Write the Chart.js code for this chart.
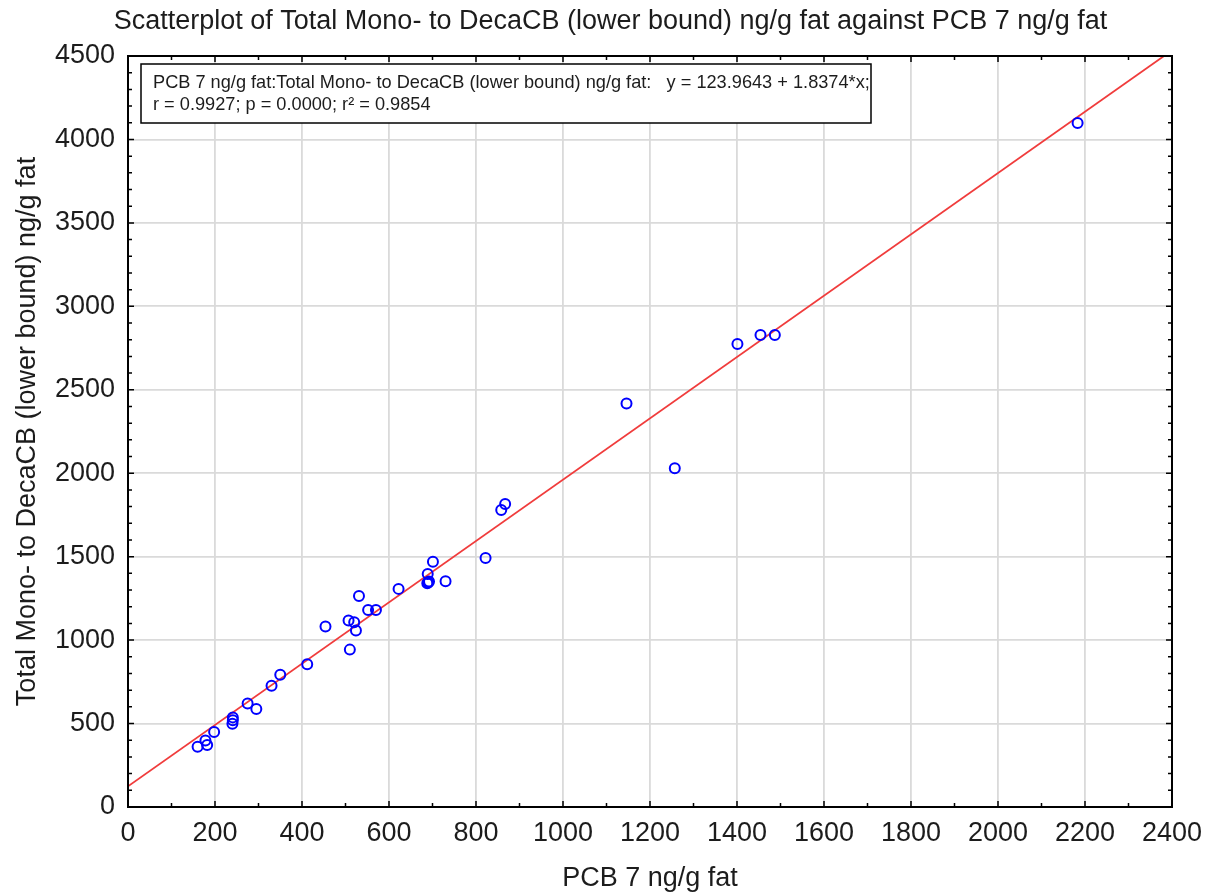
<!DOCTYPE html>
<html>
<head>
<meta charset="utf-8">
<script src="https://cdn.jsdelivr.net/npm/chart.js@4.4.1/dist/chart.umd.min.js"></script>
<style>
  html, body { margin: 0; padding: 0; background: #fff; }
  #wrap { width: 1215px; height: 895px; }
</style>
</head>
<body>
<div id="wrap"><canvas id="scatter" width="1215" height="895"></canvas></div>
<script>
// PCB 7 ng/g fat (x) and Total Mono- to DecaCB (lower bound) ng/g fat (y)
var pcb7 = [160, 178, 182, 198, 240, 241, 241, 275, 295, 330, 350, 412, 454, 507, 510, 520, 524, 531,
            552, 570, 622, 689, 688, 692, 690, 701, 730, 822, 858, 867, 1146, 1257, 1401, 1454, 1487, 2183];
var totalCB = [361, 399, 371, 449, 499, 537, 520, 620, 587, 726, 792, 856, 1081, 1117, 943, 1107, 1058, 1265,
               1180, 1180, 1307, 1396, 1341, 1351, 1345, 1470, 1352, 1492, 1780, 1816, 2418, 2030, 2774, 2828, 2828, 4098];

// fitted line y = a + b*x
var intercept = 123.9643;
var slope = 1.8374;

var xRange = [0, 2400];
var yRange = [0, 4500];

var chartTitle = 'Scatterplot of Total Mono- to DecaCB (lower bound) ng/g fat against PCB 7 ng/g fat';
var fitLabel = [
    'PCB 7 ng/g fat:Total Mono- to DecaCB (lower bound) ng/g fat:   y = 123.9643 + 1.8374*x;',
    'r = 0.9927; p = 0.0000; r\u00B2 = 0.9854'
];

var FONT = "'Liberation Sans', Arial, sans-serif";
var TXT = '#1c1c1c';

var points = pcb7.map(function(x, i) { return { x: x, y: totalCB[i] }; });
var fitLine = xRange.map(function(x) { return { x: x, y: intercept + slope * x }; });

// title, frame with inward ticks on all sides + the fit text box
var framePlugin = {
    id: 'frame',
    afterDraw: function(chart) {
        var ctx = chart.ctx, a = chart.chartArea;
        var xs = chart.scales.x, ys = chart.scales.y;
        ctx.save();
        ctx.fillStyle = TXT;
        ctx.font = '27px ' + FONT;
        ctx.textAlign = 'center';
        ctx.textBaseline = 'middle';
        ctx.fillText(chartTitle, chart.width / 2 + 3, 22);
        ctx.textAlign = 'left';

        ctx.strokeStyle = '#000';
        ctx.lineWidth = 2;
        ctx.strokeRect(a.left, a.top, a.right - a.left, a.bottom - a.top);
        ctx.lineWidth = 1.5;
        ctx.beginPath();
        for (var v = xRange[0]; v <= xRange[1]; v += 100) {
            var px = xs.getPixelForValue(v);
            var len = (v % 200 === 0) ? 6 : 4;
            ctx.moveTo(px, a.bottom); ctx.lineTo(px, a.bottom - len);
            ctx.moveTo(px, a.top); ctx.lineTo(px, a.top + len);
        }
        for (var w = yRange[0]; w <= yRange[1]; w += 100) {
            var py = ys.getPixelForValue(w);
            var l2 = (w % 500 === 0) ? 6 : 4;
            ctx.moveTo(a.left, py); ctx.lineTo(a.left + l2, py);
            ctx.moveTo(a.right, py); ctx.lineTo(a.right - l2, py);
        }
        ctx.stroke();

        // regression text box
        var bx = a.left + 13, by = a.top + 8, bw = 730, bh = 59;
        ctx.fillStyle = '#fff';
        ctx.fillRect(bx, by, bw, bh);
        ctx.strokeStyle = '#000';
        ctx.lineWidth = 1.5;
        ctx.strokeRect(bx, by, bw, bh);
        ctx.fillStyle = TXT;
        ctx.font = '18.2px ' + FONT;
        ctx.textBaseline = 'alphabetic';
        ctx.fillText(fitLabel[0], bx + 12, by + 24);
        ctx.fillText(fitLabel[1], bx + 12, by + 46);
        ctx.restore();
    }
};

var plain = function(v) { return String(v); };

var config = {
    type: 'scatter',
    data: {
        datasets: [{
            label: 'data',
            data: points,
            pointStyle: 'circle',
            pointRadius: 5,
            pointHoverRadius: 5,
            pointBorderWidth: 2,
            borderColor: '#0000ff',
            backgroundColor: 'rgba(0,0,0,0)',
            order: 1
        }, {
            label: 'fit',
            type: 'line',
            data: fitLine,
            borderColor: '#f03c3c',
            borderWidth: 1.8,
            pointRadius: 0,
            fill: false,
            order: 2
        }]
    },
    options: {
        responsive: false,
        animation: false,
        events: [],
        layout: { padding: { left: 0, right: 43, top: 56, bottom: 0 } },
        plugins: {
            legend: { display: false },
            tooltip: { enabled: false },
            title: { display: false }
        },
        scales: {
            x: {
                type: 'linear',
                min: xRange[0],
                max: xRange[1],
                afterFit: function(s) { s.height = 88; },
                ticks: { stepSize: 200, color: TXT, padding: 10, callback: plain,
                         font: { family: FONT, size: 27 }, maxRotation: 0 },
                grid: { color: '#dadada', lineWidth: 1.8, drawTicks: false },
                border: { display: false },
                title: { display: true, text: 'PCB 7 ng/g fat', color: TXT,
                         font: { family: FONT, size: 27 }, padding: { top: 0, bottom: 0 } }
            },
            y: {
                type: 'linear',
                min: yRange[0],
                max: yRange[1],
                afterFit: function(s) { s.width = 128; },
                ticks: { stepSize: 500, color: TXT, padding: 13, callback: plain,
                         font: { family: FONT, size: 27 } },
                grid: { color: '#dadada', lineWidth: 1.8, drawTicks: false },
                border: { display: false },
                title: { display: true, text: 'Total Mono- to DecaCB (lower bound) ng/g fat', color: TXT,
                         font: { family: FONT, size: 27 }, padding: { top: 11, bottom: 4 } }
            }
        }
    },
    plugins: [framePlugin]
};

window.onload = function() {
    var c = document.getElementById('scatter').getContext('2d');
    window.myScatter = new Chart(c, config);
};
</script>
</body>
</html>
